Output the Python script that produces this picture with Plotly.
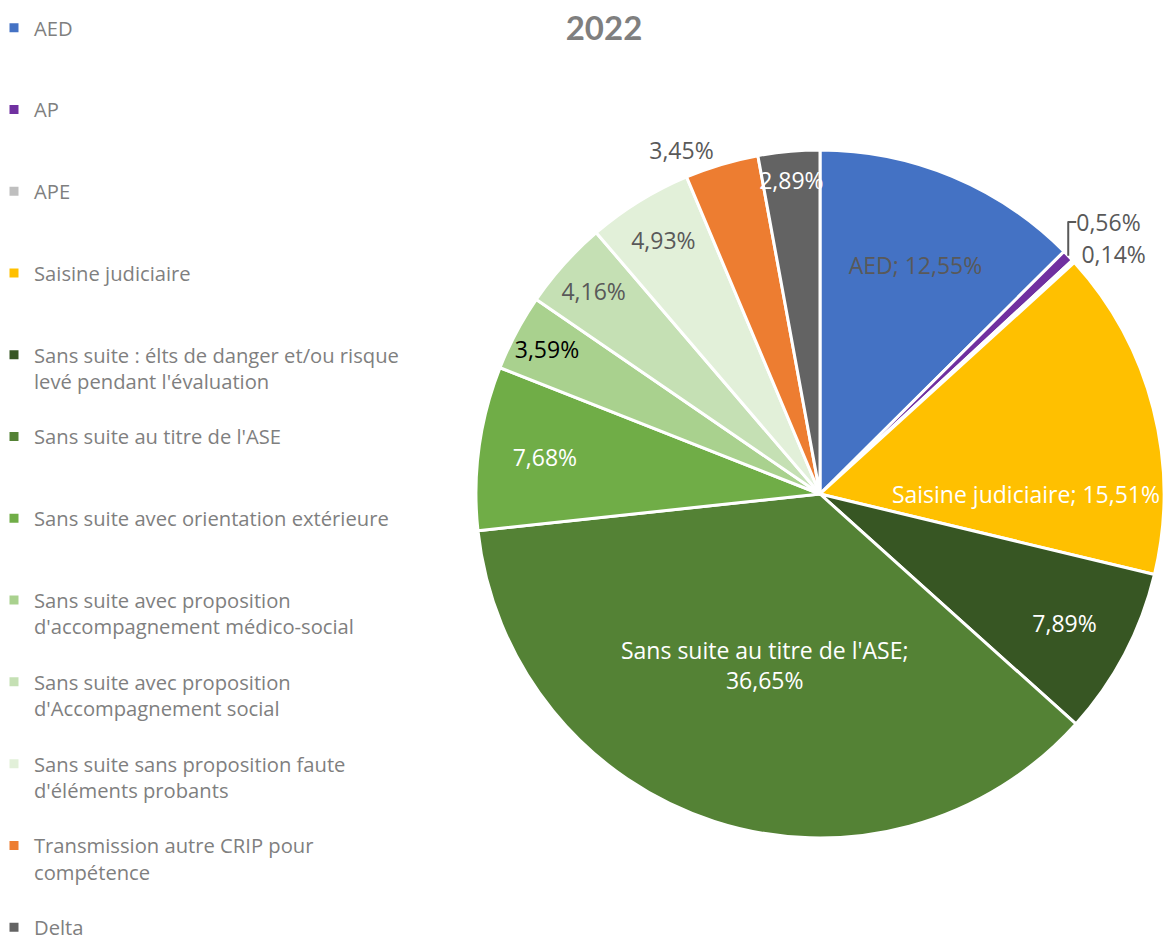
import plotly.graph_objects as go

categories = [
    "AED",
    "AP",
    "APE",
    "Saisine judiciaire",
    "Sans suite : élts de danger et/ou risque<br>levé pendant l'évaluation",
    "Sans suite au titre de l'ASE",
    "Sans suite avec orientation extérieure",
    "Sans suite avec proposition<br>d'accompagnement médico-social",
    "Sans suite avec proposition<br>d'Accompagnement social",
    "Sans suite sans proposition faute<br>d'éléments probants",
    "Transmission autre CRIP pour<br>compétence",
    "Delta",
]
values = [12.55, 0.56, 0.14, 15.51, 7.89, 36.65, 7.68, 3.59, 4.16, 4.93, 3.45, 2.89]
colors = ["#4472C4", "#7030A0", "#BFBFBF", "#FFC000", "#375623", "#548235",
          "#70AD47", "#A9D18E", "#C5E0B4", "#E2F0D9", "#ED7D31", "#636363"]
show_name = [True, False, False, True, False, True, False, False, False, False, False, False]
name_break = [False, False, False, False, False, True, False, False, False, False, False, False]
text_colors = ["#595959", "#595959", "#595959", "white", "white", "white",
               "white", "black", "#595959", "#595959", "#595959", "white"]
text_pos = ["inside", "outside", "outside", "inside", "inside", "inside",
            "inside", "inside", "inside", "inside", "outside", "inside"]

def fmt(v):
    return f"{v:.2f}".replace(".", ",") + "%"

labels_plain = [c.replace("<br>", " ") for c in categories]
texts = []
for c, v, s, b in zip(labels_plain, values, show_name, name_break):
    if s:
        texts.append(c + (";<br>" if b else "; ") + fmt(v))
    else:
        texts.append(fmt(v))

# pad legend entries (except the last) so every entry occupies the same height
legend_labels = []
for i, c in enumerate(categories):
    n = c.count("<br>") + 1
    pad = 0 if i == len(categories) - 1 else 3 - n
    legend_labels.append(c + "<br> " * pad)

W, H = 1176, 943
OFF = 8  # page body margin

fig = go.Figure(go.Pie(
    labels=legend_labels,
    values=values,
    text=texts,
    textinfo="text",
    textposition=text_pos,
    insidetextorientation="horizontal",
    textfont=dict(family="Open Sans", size=23, color=text_colors),
    outsidetextfont=dict(family="Open Sans", size=23, color="#595959"),
    marker=dict(colors=colors, line=dict(color="white", width=3)),
    sort=False,
    direction="clockwise",
    rotation=0,
    hoverinfo="skip",
    domain=dict(x=[(476 - OFF) / W, (1164 - OFF) / W],
                y=[1 - (838 - OFF) / H, 1 - (150 - OFF) / H]),
    showlegend=True,
))

fig.update_layout(
    width=W, height=H,
    margin=dict(l=0, r=0, t=0, b=0, autoexpand=False),
    paper_bgcolor="white",
    plot_bgcolor="white",
    title=dict(text="<b>2022</b>", x=(604 - OFF) / W, xanchor="center", y=1 - 20 / H, yanchor="middle",
               yref="container", font=dict(family="Lato", size=33, color="#7F7F7F")),
    legend=dict(x=-14 / W, xanchor="left", y=1.0, yanchor="top", valign="top",
                font=dict(family="Open Sans", size=20.2, color="#7F7F7F"),
                traceorder="normal"),
    uniformtext=dict(minsize=23, mode="show"),
)

fig.write_html("out.html")
